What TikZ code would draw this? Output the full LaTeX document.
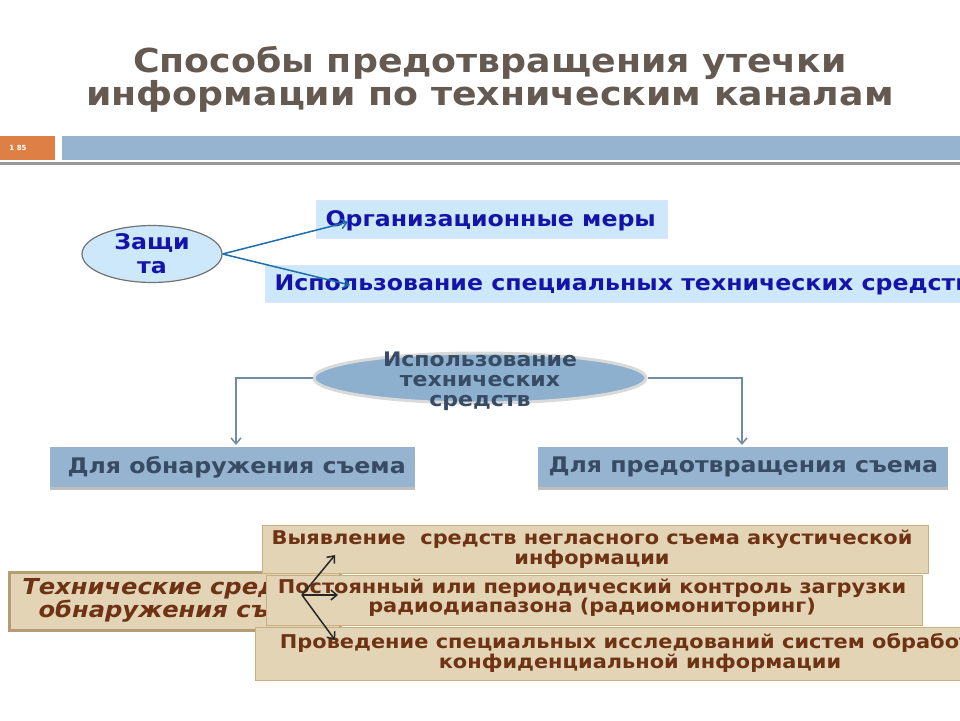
\documentclass[tikz,border=0pt]{standalone}
\usepackage{fontspec}
\setmainfont{DejaVu Sans}
\newfontfamily\wide[FakeStretch=1.1]{DejaVu Sans}
\usetikzlibrary{arrows.meta,shapes.geometric}
\definecolor{lblue}{RGB}{205,232,250}
\definecolor{dblue}{RGB}{20,20,170}
\definecolor{tealc}{RGB}{30,110,170}
\definecolor{steel}{RGB}{140,176,206}
\definecolor{slate}{RGB}{55,75,100}
\definecolor{tan}{RGB}{228,212,182}
\definecolor{tanb}{RGB}{200,175,130}
\definecolor{brownt}{RGB}{110,50,20}
\definecolor{orng}{RGB}{222,128,70}
\definecolor{barb}{RGB}{150,180,208}
\definecolor{titc}{RGB}{100,90,82}
\tikzset{
 lbbox/.style={fill=lblue,draw=lblue!80!blue!40,inner sep=0},
 tbox/.style={fill=tan,draw=tanb,line width=1pt,inner sep=0},
 btxt/.style={font=\wide\bfseries\fontsize{21.5}{22}\selectfont,text=dblue},
 ttxt/.style={text=brownt,align=center},
 stxt/.style={font=\wide\bfseries\fontsize{21.5}{21}\selectfont,text=slate},
 conn/.style={draw=tealc,line width=1.5pt,-{Straight Barb[length=6pt,width=10pt]}},
 sconn/.style={draw=steel!80!black,line width=1.5pt,-{Straight Barb[length=6pt,width=10pt]}},
 kconn/.style={draw=black!85,line width=1.5pt,-{Straight Barb[length=6pt,width=10pt]}}
}
\begin{document}
\begin{tikzpicture}[x=1pt,y=-1pt]
\useasboundingbox (0,0) rectangle (960,720);
\clip (0,0) rectangle (960,720);
\fill[white] (0,0) rectangle (960,720);
% title
\node[font=\wide\bfseries\fontsize{33}{33}\selectfont,text=titc,align=center] (title) at (490,79)
 {Способы предотвращения утечки\\информации по техническим каналам};
% bars
\fill[orng] (0,136) rectangle (55,160);
\node[font=\bfseries\fontsize{7}{7}\selectfont,text=white] (num) at (18,148) {1 85};
\fill[barb] (62,136) rectangle (960,160);
\fill[black!40] (0,162) rectangle (960,165);
% top part
\node[ellipse,fill=lblue,draw=black!55,line width=1.2pt,minimum width=140pt,minimum height=56pt,inner sep=0,align=center,btxt,font=\wide\bfseries\fontsize{21.5}{24}\selectfont] (z) at (152,254) {Защи\\та};
\draw[lbbox] (316,200) rectangle (667,238);
\node[btxt,anchor=west] (org) at (322,221) {Организационные меры};
\draw[lbbox] (265,265) rectangle (965,302);
\node[btxt,anchor=west] (isp) at (271,285) {Использование специальных технических средств};
\coordinate (a1) at (348,222);
\coordinate (a2) at (350,285);
\draw[conn] (z.east) -- (a1);
\draw[conn] (z.east) -- (a2);
% middle
\node[ellipse,fill=steel,draw=black!15,line width=3pt,minimum width=332pt,minimum height=50pt,inner sep=0] (e2) at (480,378) {};
\node[stxt,align=center,font=\wide\bfseries\fontsize{20}{20}\selectfont] (e2t) at (480,381) {Использование\\технических\\средств};
\fill[barb] (50,447) rectangle (415,487);
\fill[black!25] (50,487) rectangle (415,490);
\node[stxt,anchor=west] (d1) at (64,467) {Для обнаружения съема};
\fill[barb] (538,447) rectangle (948,487);
\fill[black!25] (538,487) rectangle (948,490);
\node[stxt,anchor=west] (d2) at (545,467) {Для предотвращения съема};
\coordinate (b1) at (236,445);
\coordinate (b2) at (742,445);
\draw[sconn] (e2.west) -| (b1);
\draw[sconn] (e2.east) -| (b2);
% bottom
\draw[tbox,draw=tanb!90!black,line width=3pt] (9,572) rectangle (340,630);
\node[font=\wide\bfseries\itshape\fontsize{22}{20}\selectfont,text=brownt,align=center] (tech) at (180,600)
 {Технические средства\\обнаружения съема};
\draw[tbox] (262,525) rectangle (928,573);
\node[ttxt,font=\wide\bfseries\fontsize{19}{15}\selectfont] (c1) at (592,549) {Выявление\ \ средств негласного съема акустической\\информации};
\draw[tbox] (266,575) rectangle (922,625);
\node[ttxt,font=\wide\bfseries\fontsize{19}{19}\selectfont] (c2) at (592,598) {Постоянный или периодический контроль загрузки\\радиодиапазона (радиомониторинг)};
\draw[tbox] (255,627) rectangle (970,680);
\node[ttxt,font=\wide\bfseries\fontsize{19}{17}\selectfont] (c3) at (640,653) {Проведение специальных исследований систем обработки\\конфиденциальной информации};
\coordinate (k0) at (302,595);
\coordinate (k1) at (335,555);
\coordinate (k2) at (338,595);
\coordinate (k3) at (335,640);
\draw[kconn] (k0) -- (k1);
\draw[kconn] (k0) -- (k2);
\draw[kconn] (k0) -- (k3);
\end{tikzpicture}
\end{document}
